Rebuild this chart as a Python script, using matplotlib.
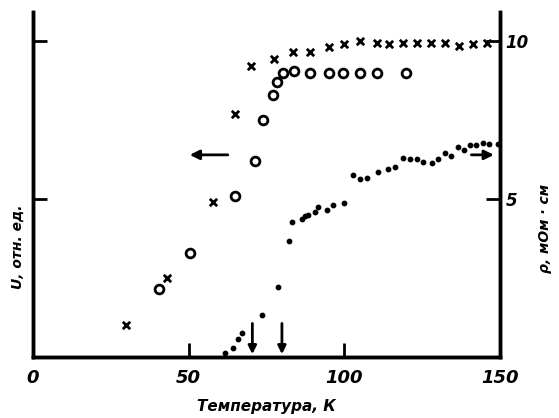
import matplotlib.pyplot as plt

# U, rel. units (crosses)
t_cross = [30, 43, 58, 65, 70, 77.5, 83.5, 89, 95, 100, 105, 110.5, 114.5,
           119, 123.5, 128, 132.5, 137, 141.5, 146]
u_cross = [0.10, 0.25, 0.49, 0.77, 0.92, 0.945, 0.965, 0.965, 0.98, 0.99,
           1.0, 0.995, 0.99, 0.995, 0.995, 0.995, 0.995, 0.985, 0.99, 0.995]

# U, rel. units (circles)
t_circ = [40.5, 50.5, 65, 71.5, 74, 77, 78.5, 80.5, 84, 89, 95, 99.5, 105, 110.5, 120]
u_circ = [0.215, 0.33, 0.51, 0.62, 0.75, 0.83, 0.87, 0.9, 0.905, 0.9, 0.9,
          0.9, 0.9, 0.9, 0.9]

# resistivity, mOhm*cm (dots)
t_rho = [61.7, 64.2, 65.9, 67.1, 73.6, 78.7, 82.2, 83.2, 86.4, 87.4, 88.3,
         90.6, 91.5, 94.4, 96.4, 99.9, 102.8, 105, 107.3, 110.8, 114, 116.3,
         118.9, 121.1, 123.4, 125.3, 128.2, 130.1, 132.3, 134.3, 136.5,
         138.5, 140.4, 142.3, 144.6, 146.5, 149.4]
rho = [0.13, 0.28, 0.57, 0.76, 1.33, 2.2, 3.67, 4.27, 4.37, 4.46, 4.49,
       4.59, 4.75, 4.65, 4.81, 4.87, 5.76, 5.63, 5.66, 5.85, 5.95, 6.01,
       6.3, 6.27, 6.27, 6.17, 6.14, 6.27, 6.46, 6.36, 6.65, 6.55, 6.71,
       6.71, 6.77, 6.74, 6.74]

# transition temperatures marked by arrows
t_marks = [70.5, 80]

font = dict(family='DejaVu Sans', weight='bold', style='italic')

fig = plt.figure(figsize=(5.59, 4.18), dpi=100)
ax = fig.add_axes([0.059, 0.146, 0.835, 0.825])
ax2 = ax.twinx()

ax.scatter(t_cross, u_cross, marker='x', s=28, color='black', linewidths=2, zorder=3)
ax.scatter(t_circ, u_circ, marker='o', s=40, facecolors='white',
           edgecolors='black', linewidths=2, zorder=3)
ax2.scatter(t_rho, rho, marker='o', s=10, color='black', zorder=3)

ax.set_xlim(0, 150)
ax.set_ylim(0, 1.092)
ax2.set_ylim(0, 10.92)

ax.spines['top'].set_visible(False)
ax2.spines['top'].set_visible(False)
for s in ['left', 'bottom', 'right']:
    ax.spines[s].set_linewidth(2.5)
    ax2.spines[s].set_linewidth(2.5)

ax.set_xticks([0, 50, 100, 150])
ax.set_xticklabels(['0', '50', '100', '150'], fontsize=13, **font)
ax.tick_params(axis='x', direction='in', length=10, width=2, pad=9)
ax.set_yticks([0.5, 1.0])
ax.set_yticklabels([])
ax.tick_params(axis='y', direction='in', length=10, width=2)
ax2.set_yticks([5, 10])
ax2.set_yticklabels(['5', '10'], fontsize=12, **font)
ax2.tick_params(axis='y', direction='in', length=10, width=2, pad=4)

ax.set_xlabel('Температура, К', fontsize=11, labelpad=8, **font)
fig.text(18 / 559, 1 - 247 / 418, 'U, отн. ед.', rotation=90, fontsize=10,
         ha='center', va='center', **font)
fig.text(545 / 559, 1 - 228 / 418, 'ρ, мОм · см', rotation=90, fontsize=10,
         ha='center', va='center', **font)

# arrows showing which axis each curve belongs to
ax.annotate('', xy=(49.5, 0.64), xytext=(63.5, 0.64),
            arrowprops=dict(arrowstyle='-|>', color='black', lw=2, mutation_scale=14))
ax2.annotate('', xy=(149, 6.4), xytext=(140, 6.4),
             arrowprops=dict(arrowstyle='-|>', color='black', lw=2, mutation_scale=14))
for t in t_marks:
    ax.annotate('', xy=(t, 0.0), xytext=(t, 0.115),
                arrowprops=dict(arrowstyle='-|>', color='black', lw=2, mutation_scale=12))

fig.savefig('out.png', dpi=100)
